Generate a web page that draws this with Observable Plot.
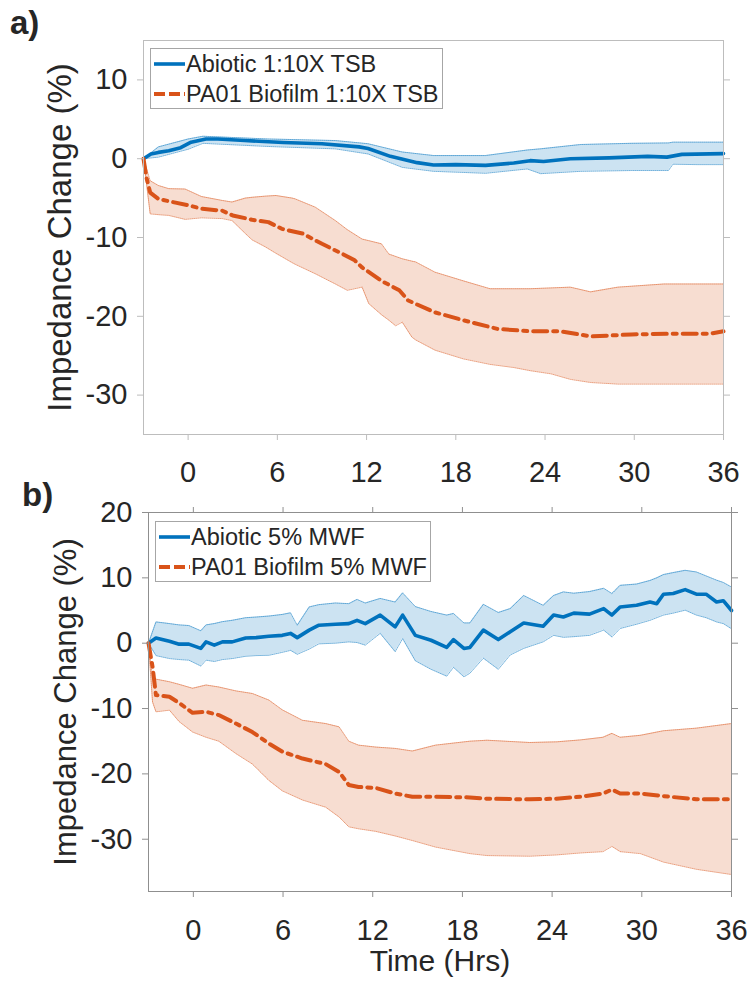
<!DOCTYPE html>
<html>
<head>
<meta charset="utf-8">
<script src="https://cdn.jsdelivr.net/npm/d3@7"></script>
<script src="https://cdn.jsdelivr.net/npm/@observablehq/plot@0.6"></script>
<style>
  html, body { margin: 0; padding: 0; background: #fff; }
  #root { position: relative; width: 752px; height: 985px; overflow: hidden; background: #fff;
          font-family: "Liberation Sans", Arial, Helvetica, sans-serif; color: #262626; }
  .panel { position: absolute; left: 0; }
  .plabel { position: absolute; font-weight: bold; font-size: 33px; line-height: 1; }
  .legend { position: absolute; background: #fff; border: 1px solid #a6a6a6; box-sizing: border-box; }
  .row { position: absolute; left: 0; height: 30px; display: flex; align-items: center; white-space: nowrap;
         font-size: 23.5px; color: #262626; }
  .row svg { display: block; }
</style>
</head>
<body>
<div id="root"></div>
<script>
// ---------- Data ----------
const xTicks = [0, 6, 12, 18, 24, 30, 36];
const yTicksA = [-30, -20, -10, 0, 10];
const yTicksB = [-30, -20, -10, 0, 10, 20];

const seriesNamesA = ["Abiotic 1:10X TSB", "PA01 Biofilm 1:10X TSB"];
const seriesNamesB = ["Abiotic 5% MWF", "PA01 Biofilm 5% MWF"];

// Panel a — Abiotic (mean)
const tA_abiotic = [-3, -2.5, -2, -1.3, -0.5, 0.2, 1.2, 2, 3.8, 6.4, 9, 11.5, 12.1, 13.6, 15.4, 16.5, 18, 20, 21.9, 23, 23.9, 25.7, 28.3, 30.9, 32.2, 33.2, 36];
const vA_abiotic = [0, 0.6, 0.8, 1.0, 1.4, 2.1, 2.5, 2.5, 2.3, 2.05, 1.9, 1.5, 1.3, 0.3, -0.5, -0.8, -0.75, -0.85, -0.55, -0.25, -0.35, 0, 0.1, 0.3, 0.2, 0.55, 0.65];
// Panel a — Abiotic band
const tA_abioticBand = [-3, -2, 0, 1, 5.4, 9.9, 12.1, 14.4, 16.5, 20, 22.8, 23.7, 26.4, 29.8, 32.3, 32.6, 34.2, 36];
const hiA_abiotic = [0, 1.5, 2.5, 2.85, 2.5, 2.3, 1.9, 0.85, 0.4, 0.4, 1.1, 1.25, 1.8, 1.95, 2.0, 2.1, 2.1, 2.1];
const loA_abiotic = [0, 0.2, 1.2, 1.95, 1.55, 1.25, 0.6, -1.1, -1.6, -1.85, -1.3, -1.9, -1.6, -1.5, -1.5, -0.7, -0.75, -0.75];

// Panel a — Biofilm (mean)
const tA_biofilm = [-3, -2.8, -2.55, -2, -1.3, 0, 0.9, 2.3, 3, 4.3, 5.4, 6.3, 7.7, 9, 10.4, 11.2, 11.7, 13, 14.2, 14.8, 16.6, 18.5, 20.8, 23, 25, 27.1, 29.8, 33.1, 35.1, 36];
const vA_biofilm = [0, -2.4, -4.3, -5.1, -5.4, -5.9, -6.35, -6.6, -7.2, -7.75, -8.05, -8.9, -9.5, -10.8, -12.1, -12.9, -13.8, -15.5, -16.7, -18.0, -19.5, -20.5, -21.6, -21.9, -21.9, -22.55, -22.3, -22.2, -22.2, -21.9];
// Panel a — Biofilm band
const tA_biofilmBand = [-3, -2.55, -2, -1.3, -0.2, 0.9, 2.3, 2.95, 3.85, 4.3, 5.2, 5.9, 7.0, 7.2, 8.55, 9.9, 10.7, 11.7, 12.15, 13.0, 13.5, 13.95, 14.4, 15.05, 15.3, 16.6, 18.5, 20.3, 21.9, 23, 24.4, 25.7, 27.06, 28.9, 32, 36];
const hiA_biofilm = [0, -2.8, -3.4, -3.8, -3.85, -4.8, -5.3, -5.5, -5.0, -4.9, -4.75, -4.67, -5.0, -5.1, -6.15, -7.85, -9.0, -10.2, -10.4, -10.8, -12.1, -12.4, -12.7, -13.0, -13.1, -14.4, -15.5, -16.5, -16.5, -16.5, -16.4, -16.3, -16.9, -16.3, -15.9, -15.9];
const loA_biofilm = [0, -7.0, -7.1, -7.2, -7.7, -7.5, -7.6, -7.85, -9.5, -10.3, -11.2, -12.0, -13.2, -13.4, -14.6, -15.9, -16.7, -16.3, -18.4, -19.8, -20.5, -21.2, -20.75, -22.65, -23.0, -24.3, -25.4, -26.1, -26.5, -26.9, -27.3, -28.0, -28.4, -28.6, -28.6, -28.6];

// Panel b — Abiotic (mean and band, same times)
const tB_abiotic = [-3, -2.5, -1.6, -0.95, -0.3, 0.5, 0.85, 1.4, 1.95, 2.6, 3.5, 4.2, 5.05, 5.95, 6.5, 6.95, 7.75, 8.4, 9.5, 10.4, 10.95, 11.5, 12.5, 13.5, 14.0, 14.85, 15.9, 16.95, 17.4, 18.1, 18.5, 19.4, 20.4, 21.2, 22.1, 23.4, 24.1, 24.75, 25.45, 26.5, 27.45, 28.0, 28.55, 29.65, 30.55, 31.0, 31.45, 32.1, 32.9, 33.65, 34.3, 35.0, 35.45, 36];
const vB_abiotic = [0, 0.8, 0.3, -0.15, -0.15, -0.8, 0.2, -0.3, 0.2, 0.2, 0.8, 0.85, 1.05, 1.2, 1.5, 0.85, 2.0, 2.75, 2.9, 3.0, 3.5, 3.0, 4.3, 2.5, 4.3, 1.2, 0.45, -0.65, 0.55, -0.8, -0.65, 2.0, 0.55, 1.75, 3.1, 2.6, 4.3, 4.0, 4.6, 4.45, 5.3, 4.3, 5.55, 5.8, 6.3, 6.05, 7.5, 7.6, 8.2, 7.5, 7.5, 6.3, 6.5, 5.0];
const hiB_abiotic = [0, 3.26, 3.0, 2.8, 2.7, 1.9, 2.8, 3.0, 3.3, 3.5, 3.9, 4.0, 4.15, 4.4, 4.65, 2.75, 5.55, 5.9, 6.15, 6.05, 6.7, 6.15, 6.85, 6.3, 7.7, 5.6, 4.85, 4.3, 4.55, 3.1, 3.1, 5.95, 4.7, 5.3, 7.3, 5.8, 7.3, 7.85, 7.65, 7.9, 8.4, 7.6, 8.85, 9.05, 9.6, 10.0, 10.5, 10.8, 11.15, 10.9, 10.3, 9.65, 9.3, 8.6];
const loB_abiotic = [0, -1.9, -2.35, -2.5, -2.6, -3.5, -2.6, -2.8, -2.5, -2.35, -2.0, -1.9, -1.85, -1.4, -1.1, -1.7, -0.9, -0.1, 0.0, 0.2, 0.1, -0.3, 1.5, -1.3, 0.7, -2.7, -4.0, -5.05, -3.7, -5.15, -4.6, -2.3, -4.0, -1.8, -0.8, 0.2, 1.2, 0.9, 1.0, 1.2, 2.0, 0.95, 2.25, 2.9, 3.5, 3.9, 4.3, 4.6, 5.05, 4.3, 3.9, 3.25, 3.0, 2.2];

// Panel b — Biofilm (mean and band, same times)
const tB_biofilm = [-3, -2.73, -2.5, -1.6, -0.95, -0.05, 0.85, 1.7, 2.85, 3.95, 5.05, 5.95, 7.3, 8.85, 9.75, 10.4, 11.05, 12.2, 13.5, 14.65, 16.2, 18.5, 19.65, 22.5, 24.3, 25.9, 27.4, 28.0, 28.55, 29.9, 31.45, 33.65, 36];
const vB_biofilm = [0, -3.6, -7.95, -8.2, -9.15, -10.65, -10.5, -11.0, -12.3, -13.6, -15.35, -16.6, -17.65, -18.5, -19.7, -21.7, -22.0, -22.15, -23.0, -23.5, -23.5, -23.6, -23.8, -23.9, -23.8, -23.5, -23.0, -22.4, -23.0, -23.0, -23.4, -23.9, -23.9];
const hiB_biofilm = [0, -5.3, -5.5, -5.9, -6.3, -6.9, -6.4, -6.7, -7.3, -7.7, -8.7, -10.2, -11.8, -12.3, -12.8, -15.0, -15.6, -15.9, -16.1, -16.5, -15.6, -15.0, -14.85, -15.2, -15.1, -14.8, -14.4, -13.8, -14.4, -14.1, -13.4, -13.0, -12.3];
const loB_biofilm = [0, -9.0, -10.5, -10.25, -12.0, -13.6, -14.4, -15.0, -16.9, -18.5, -21.0, -22.6, -24.0, -25.1, -26.6, -28.1, -28.4, -28.8, -29.5, -30.2, -31.2, -32.2, -32.5, -32.6, -32.4, -32.1, -31.9, -31.1, -31.9, -32.2, -33.5, -34.6, -35.4];

// ---------- Styles ----------
const BLUE = "#0072BD";
const ORANGE = "#D95319";
const DASH = "14,6,4,6";
const FONT = "'Liberation Sans', Arial, Helvetica, sans-serif";
const INK = "#262626";

const line = (t, v) => t.map((x, i) => ({t: x, v: v[i]}));
const band = (t, lo, hi) => t.map((x, i) => ({t: x, lo: lo[i], hi: hi[i]}));
const fmt = d => String(d);

function bandMarks(data, color) {
  return [
    Plot.areaY(data, {x: "t", y1: "lo", y2: "hi", fill: color, fillOpacity: 0.2}),
    Plot.lineY(data, {x: "t", y: "hi", stroke: color, strokeWidth: 1, strokeOpacity: 0.55, strokeDasharray: "1,1"}),
    Plot.lineY(data, {x: "t", y: "lo", stroke: color, strokeWidth: 1, strokeOpacity: 0.55, strokeDasharray: "1,1"})
  ];
}

function panel(opts) {
  return Plot.plot({
    width: 752,
    height: opts.height,
    marginTop: opts.mt, marginBottom: opts.mb, marginLeft: opts.ml, marginRight: opts.mr,
    style: {fontFamily: FONT, color: INK, background: "transparent", overflow: "visible"},
    x: {domain: [-3, 36]},
    y: {domain: opts.yDomain},
    marks: [
      ...bandMarks(opts.band1, BLUE),
      ...bandMarks(opts.band2, ORANGE),
      Plot.lineY(opts.line1, {x: "t", y: "v", stroke: BLUE, strokeWidth: 3.6}),
      Plot.lineY(opts.line2, {x: "t", y: "v", stroke: ORANGE, strokeWidth: 4, strokeDasharray: DASH}),
      Plot.frame({stroke: opts.frame}),
      Plot.axisX({ticks: xTicks, tickFormat: fmt, tickSize: 6, tickPadding: opts.xpad, fontSize: opts.tickFont, stroke: opts.frame, fill: INK, label: null}),
      ...(opts.topTicks ? [Plot.axisX({anchor: "top", ticks: xTicks, tickFormat: () => "", tickSize: 6, stroke: opts.frame, label: null})] : []),
      Plot.axisY({ticks: opts.yTicks, tickFormat: fmt, tickSize: 6, tickPadding: 10, fontSize: opts.tickFont, stroke: opts.frame, fill: INK, label: null}),
      Plot.axisY({anchor: "right", ticks: opts.yTicks, tickFormat: () => "", tickSize: 6, stroke: opts.frame, label: null}),
      Plot.text(["Impedance Change (%)"], {frameAnchor: "left", dx: opts.ylabDx, rotate: -90, fontSize: opts.ylabFont, fill: INK, textAnchor: "middle", lineAnchor: "middle"}),
      ...(opts.xlabel ? [Plot.text([opts.xlabel], {frameAnchor: "bottom", dy: opts.xlabDy, fontSize: 30, fill: INK, lineAnchor: "middle"})] : [])
    ]
  });
}

const chartA = panel({
  height: 490, mt: 40, mb: 56, ml: 143, mr: 29,
  yDomain: [-35, 15], yTicks: yTicksA, frame: "#bdbdbd", tickFont: 29, xpad: 21,
  band1: band(tA_abioticBand, loA_abiotic, hiA_abiotic),
  band2: band(tA_biofilmBand, loA_biofilm, hiA_biofilm),
  line1: line(tA_abiotic, vA_abiotic),
  line2: line(tA_biofilm, vA_biofilm),
  ylabDx: -83, ylabFont: 33, topTicks: false
});

const chartB = panel({
  height: 495, mt: 22, mb: 94, ml: 148, mr: 21,
  yDomain: [-38, 20], yTicks: yTicksB, frame: "#8f8f8f", tickFont: 29, xpad: 22,
  band1: band(tB_abiotic, loB_abiotic, hiB_abiotic),
  band2: band(tB_biofilm, loB_biofilm, hiB_biofilm),
  line1: line(tB_abiotic, vB_abiotic),
  line2: line(tB_biofilm, vB_biofilm),
  ylabDx: -82, ylabFont: 31, topTicks: true,
  xlabel: "Time (Hrs)", xlabDy: 70
});

const root = document.getElementById("root");
function place(node, top) {
  const d = document.createElement("div");
  d.className = "panel";
  d.style.top = top + "px";
  d.appendChild(node);
  root.appendChild(d);
}
place(chartA, 0);
place(chartB, 490);

function addText(cls, txt, left, top) {
  const d = document.createElement("div");
  d.className = cls;
  d.textContent = txt;
  d.style.left = left + "px";
  d.style.top = top + "px";
  root.appendChild(d);
}
addText("plabel", "a)", 10, 6);
addText("plabel", "b)", 22, 478);

function legend(names, left, top, width, sampleLeft, textLeft) {
  const box = document.createElement("div");
  box.className = "legend";
  box.style.left = left + "px";
  box.style.top = top + "px";
  box.style.width = width + "px";
  box.style.height = "61px";
  const styles = [{c: BLUE, w: 3.6, dash: null}, {c: ORANGE, w: 4, dash: "11,4"}];
  names.forEach((name, i) => {
    const row = document.createElement("div");
    row.className = "row";
    row.style.top = (i * 30) + "px";
    const s = styles[i];
    row.innerHTML = `<svg width="${textLeft}" height="30"><line x1="${sampleLeft}" x2="${textLeft - 1}" y1="15" y2="15" stroke="${s.c}" stroke-width="${s.w}" ${s.dash ? `stroke-dasharray="${s.dash}"` : ""}/></svg><span>${name}</span>`;
    box.appendChild(row);
  });
  root.appendChild(box);
}
legend(seriesNamesA, 150, 48, 293, 3, 35);
legend(seriesNamesB, 155, 521, 276, 3, 35);
</script>
</body>
</html>
